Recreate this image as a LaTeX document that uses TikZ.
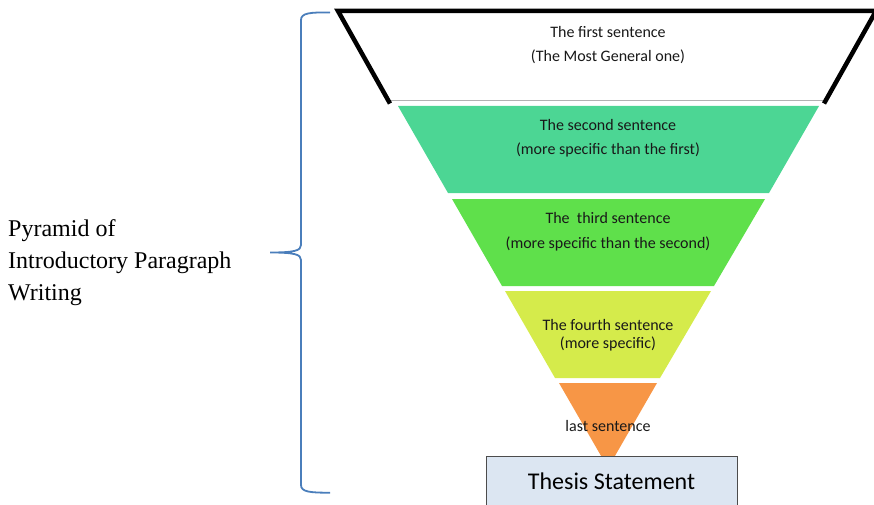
\documentclass[tikz,border=0pt]{standalone}
\usepackage{fontspec}
\setmainfont{Carlito}
\newfontfamily\serifl{Liberation Serif}
\definecolor{gA}{RGB}{76,214,148}
\definecolor{gB}{RGB}{95,224,75}
\definecolor{gC}{RGB}{213,235,75}
\definecolor{orA}{RGB}{247,150,70}
\definecolor{thesisfill}{RGB}{220,230,242}
\definecolor{bracecol}{RGB}{74,126,187}
\tikzset{
  lbl/.style={anchor=base, inner sep=0pt, font=\fontsize{16}{18}\selectfont, text=black!90},
  caption/.style={anchor=base west, inner sep=0pt, font=\serifl\fontsize{24}{28}\selectfont},
}
\begin{document}
\begin{tikzpicture}[x=1pt,y=-1pt]
\useasboundingbox (0,0) rectangle (874,505);
\clip (0,0) rectangle (874,505);
% top white trapezoid
\fill[white] (338,11) -- (876,11) -- (824,102) -- (390,102) -- cycle;
\draw[gray!60, line width=1pt] (390,101) -- (824,101);
\draw[black, line width=4.5pt, line join=miter] (390,103.5) -- (338,11) -- (876,11) -- (824,103.5);
% coloured layers
\fill[gA] (398,106) -- (819,106) -- (769,193) -- (448,193) -- cycle;
\fill[gB] (452,199) -- (765,199) -- (714,286) -- (502,286) -- cycle;
\fill[gC] (505,291) -- (711,291) -- (660,378) -- (555,378) -- cycle;
\fill[orA] (559,383) -- (657,383) -- (608,468) -- cycle;
% texts
\node[lbl] (t1a) at (608,38) {The first sentence};
\node[lbl] (t1b) at (608,62) {(The Most General one)};
\node[lbl] (t2a) at (608,131) {The second sentence};
\node[lbl] (t2b) at (608,155) {(more specific than the first)};
\node[lbl] (t3a) at (608,223) {The\ \ third sentence};
\node[lbl] (t3b) at (608,248) {(more specific than the second)};
\node[lbl] (t4a) at (608,330.5) {The fourth sentence};
\node[lbl] (t4b) at (608,348) {(more specific)};
\node[lbl] (t5) at (608,431.5) {last sentence};
% thesis box
\draw[fill=thesisfill, draw=black!70, line width=1pt] (486,456) rectangle (737,510);
\node[anchor=base, inner sep=0pt, font=\fontsize{24}{28}\selectfont] (thesis) at (611.5,489) {Thesis Statement};
% brace
\draw[bracecol, line width=1.8pt] (330,12.5) .. controls (310,12.2) and (301,13) .. (301,20) -- (301,245)
  .. controls (301,250.5) and (295,252.5) .. (270,252.5)
  .. controls (295,252.5) and (301,254.5) .. (301,260) -- (301,485)
  .. controls (301,492) and (310,492.7) .. (330,492.7);
% left caption
\node[caption] (p1) at (8,236) {Pyramid of};
\node[caption] (p2) at (8,268) {Introductory Paragraph};
\node[caption] (p3) at (8,300) {Writing};
\end{tikzpicture}
\end{document}
